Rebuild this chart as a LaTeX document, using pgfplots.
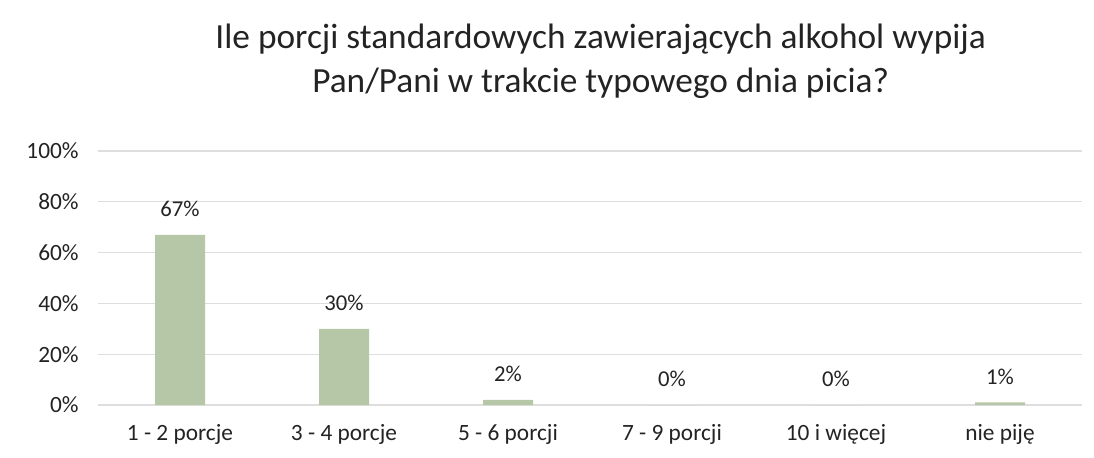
\documentclass[border=0pt]{standalone}
\usepackage{fontspec}
\setmainfont{Carlito}
\usepackage{pgfplots}
\pgfplotsset{compat=1.18}
\definecolor{barc}{RGB}{181,199,166}
\definecolor{gridc}{RGB}{222,222,222}
\definecolor{txt}{RGB}{35,35,35}
\begin{document}
\begin{tikzpicture}
\begin{axis}[
  scale only axis,
  width=738pt, height=190.5pt,
  xmin=-0.5, xmax=5.5, ymin=0, ymax=100,
  ybar, bar width=37.5pt,
  xtick={0,1,2,3,4,5},
  xticklabels={1 - 2 porcje, 3 - 4 porcje, 5 - 6 porcji, 7 - 9 porcji, 10 i więcej, nie piję},
  ytick={0,20,40,60,80,100},
  yticklabel={\pgfmathprintnumber{\tick}\%},
  /pgf/number format/assume math mode=true,
  ymajorgrids, grid style={gridc, line width=0.8pt},
  axis line style={draw=none},
  major tick length=0pt,
  tick label style={font=\fontsize{17.5}{20}\selectfont, text=txt},
  yticklabel style={xshift=-11pt},
  xticklabel style={yshift=-11pt},
  nodes near coords={\pgfmathprintnumber{\pgfplotspointmeta}\%},
  nodes near coords style={font=\fontsize{17}{20}\selectfont, text=txt, yshift=10pt},
]
\addplot[fill=barc, draw=none] coordinates {(0,67) (1,30) (2,2) (3,0) (4,0) (5,1)};
\end{axis}
\node[font=\fontsize{26.5}{32}\selectfont, text=txt, anchor=base] at ([xshift=8pt, yshift=76.5pt]current axis.north) {Ile porcji standardowych zawierających alkohol wypija};
\node[font=\fontsize{26.5}{32}\selectfont, text=txt, anchor=base] at ([xshift=8pt, yshift=43.5pt]current axis.north) {Pan/Pani w trakcie typowego dnia picia?};
\pgfresetboundingbox
\path[use as bounding box] ([xshift=-73.5pt,yshift=-39pt]current axis.south west) rectangle ([xshift=9pt,yshift=113.25pt]current axis.north east);
\end{tikzpicture}
\end{document}
